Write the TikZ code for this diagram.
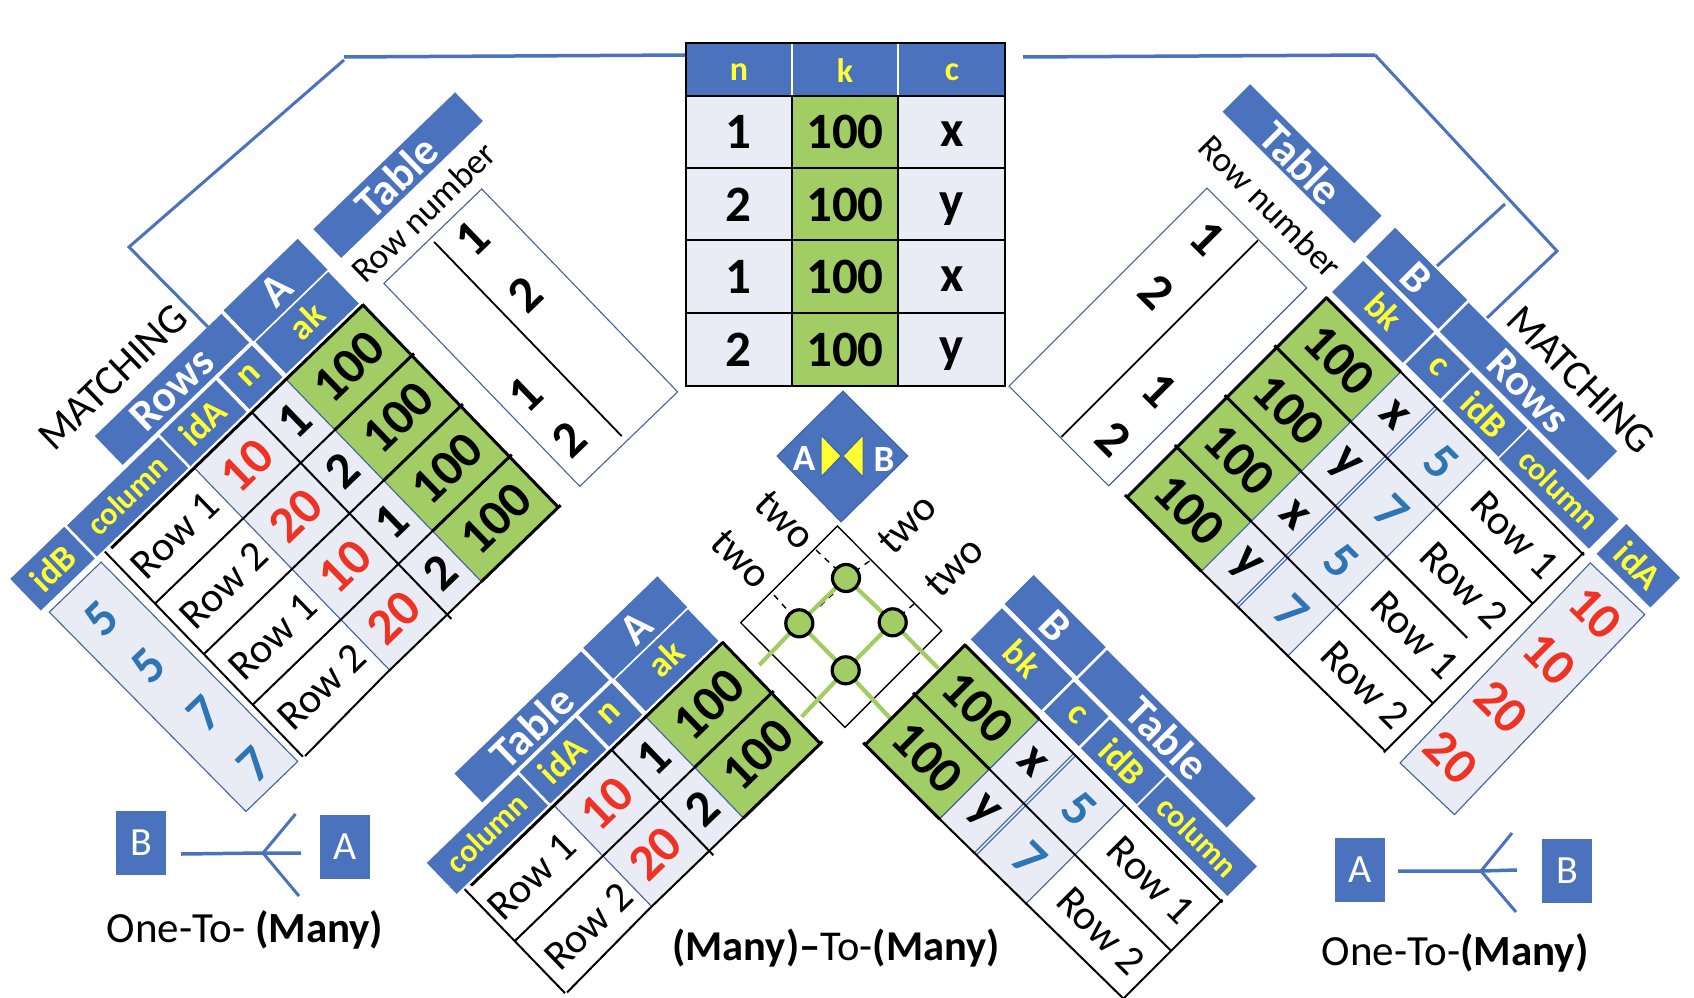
\documentclass[tikz,border=0pt]{standalone}
\usepackage{fontspec}
\setmainfont{Carlito}
\definecolor{bl}{HTML}{4A72BD}
\definecolor{lt}{HTML}{E9EBF5}
\definecolor{gr}{HTML}{A1CD64}
\definecolor{rd}{HTML}{EE3324}
\definecolor{dg}{HTML}{2E75B6}
\definecolor{ye}{HTML}{FFFF33}
\definecolor{eg}{HTML}{41629F}
\newcounter{lab}
\newcommand\tx[4]{\stepcounter{lab}\node[#3] (t\arabic{lab}) at (#1,#2) {#4};}
\tikzset{
  hd/.style={fill=bl},
  wh/.style={font=\fontsize{44}{44}\selectfont\bfseries,text=white,inner sep=0pt},
  yl/.style={font=\fontsize{36}{36}\selectfont\bfseries,text=ye,inner sep=0pt},
  yc/.style={yl,font=\fontsize{32}{32}\selectfont\bfseries},
  ym/.style={yl,font=\fontsize{34}{34}\selectfont\bfseries},
  nm/.style={font=\fontsize{51}{51}\selectfont\bfseries,text=black,inner sep=0pt},
  rn/.style={nm,text=rd},
  bn/.style={nm,text=dg},
  rw/.style={font=\fontsize{42}{42}\selectfont,text=black,inner sep=0pt},
  rt/.style={font=\fontsize{35.5}{36}\selectfont,text=black,inner sep=0pt},
  mt/.style={font=\fontsize{42}{42}\selectfont,text=black,inner sep=0pt},
  lg/.style={font=\fontsize{43}{43}\selectfont,text=black,inner sep=0pt},
  thin line/.style={draw=eg,line width=1.1pt},
  gl/.style={draw=black,line width=2pt},
  tk/.style={draw=black,line width=3pt},
  ml/.style={draw=bl,line width=3pt},
  eb/.style={fill=bl,text=white,inner sep=0pt,font=\fontsize{40}{40}\selectfont},
  gc/.style={circle,fill=gr,draw=black,line width=3.2pt,minimum size=27pt,inner sep=0pt},
  gs/.style={draw=gr,line width=4.2pt},
  dsh/.style={draw=black,line width=1.4pt,dash pattern=on 6pt off 6pt}
}
\newcommand\LeftHead[1]{%
  \path[hd] (-104,-93) rectangle (-1,-50);
  \path[hd] (-103,-48) rectangle (-2,-4);
  \path[hd] (-284,-92) rectangle (-108,-52);
  \path[hd] (-154,-48) rectangle (-108,-4);
  \path[hd] (-236,-48) rectangle (-158,-4);
  \path[hd] (-366,-47) rectangle (-239,-4);
  \tx{-52}{-71}{wh}{A}
  \tx{-52}{-28}{yl}{ak}
  \tx{-196}{-72}{wh}{#1}
  \tx{-131}{-28}{yl}{n}
  \tx{-197}{-27}{yl}{idA}
  \tx{-302}{-27}{yc}{column}
}
\newcommand\RightHead[1]{%
  \path[hd] (-1,-98) rectangle (101,-57);
  \path[hd] (0,-52) rectangle (100,-8);
  \path[hd] (104,-97) rectangle (314,-56);
  \path[hd] (103,-51) rectangle (152,-9);
  \path[hd] (155,-50) rectangle (234,-9);
  \path[hd] (236,-50) rectangle (363,-8);
  \tx{50}{-77}{wh}{B}
  \tx{50}{-31}{yl}{bk}
  \tx{209}{-77}{wh}{#1}
  \tx{128}{-30}{yl}{c}
  \tx{194}{-29}{yl}{idB}
  \tx{300}{-29}{yc}{column}
}
\newcommand\LeftGrid[1]{%
  \pgfmathsetmacro\HH{70.3*#1}
  \path[fill=lt] (-234.5,0) rectangle (-107,\HH);
  \path[fill=gr] (-107,0) rectangle (0,\HH);
  \draw[thin line] (-234.5,0) -- (-234.5,\HH);
  \draw[thin line] (-107,0) -- (-107,\HH);
  \foreach \k in {1,...,#1}{
    \pgfmathsetmacro\vv{70.3*\k}
    \ifnum\k<#1\relax
      \draw[gl] (-357,\vv) -- (-107,\vv);
      \draw[tk] (-107,\vv) -- (3,\vv);
    \fi
  }
  \draw[tk] (-107,\HH) -- (3,\HH);
  \draw[gl] (-107,\HH) -- (-240,\HH);
  \draw[gl] (-240,\HH) -- (-355,\HH+3);
  \draw[gl] (-154.5,0) -- (-154.5,\HH+6);
  \draw[gl] (-357,-2) -- (-357,\HH+2);
  \draw[tk] (-350,0) -- (0,0);
  \draw[tk] (0,-1) -- (0,\HH+1);
}
\newcommand\RightGrid[1]{%
  \pgfmathsetmacro\HH{70.5*#1}
  \path[fill=lt] (105,0) rectangle (226,\HH);
  \path[fill=gr] (0,0) rectangle (105,\HH);
  \draw[thin line] (105,0) -- (105,\HH);
  \draw[thin line] (226,0) -- (226,\HH);
  \draw[thin line] (153.5,0) -- (153.5,\HH);
  \draw[thin line] (156.5,0) -- (156.5,\HH);
  \foreach \k in {1,...,#1}{
    \pgfmathsetmacro\vv{70.5*\k}
    \ifnum\k<#1\relax
      \ifnum\k=2\relax
        \draw[gl] (105,\vv) -- (340,\vv);
      \else
        \draw[gl] (105,\vv) -- (362,\vv);
      \fi
      \draw[tk] (-3,\vv) -- (105,\vv);
    \fi
  }
  \draw[tk] (-3,\HH) -- (105,\HH);
  \draw[gl] (105,\HH) -- (362,\HH-3);
  \draw[gl] (362,-2) -- (362,\HH-1);
  \draw[gl] (0,0) -- (364,0);
  \draw[tk] (0,0) -- (105,0);
  \draw[tk] (0,-1) -- (0,\HH+1);
}
\begin{document}
\begin{tikzpicture}[x=1pt,y=-1pt]
\useasboundingbox (0,0) rectangle (1694,998);

% ---- matching lines
\coordinate (la) at (685,55);
\coordinate (lb) at (344,57);
\coordinate (lc) at (344,60);
\coordinate (ld) at (129,247);
\coordinate (le) at (208,327);
\draw[ml,line width=3.5pt] (la) -- (lb);
\draw[ml] (lc) -- (ld) -- (le);
\coordinate (ra) at (1023,57);
\coordinate (rb) at (1375,55);
\coordinate (rc) at (1557,251);
\coordinate (rd) at (1487,318);
\coordinate (re) at (1505,204);
\coordinate (rf) at (1437,266);
\draw[ml,line width=3.5pt] (ra) -- (rb);
\draw[ml] (rb) -- (rc) -- (rd);
\draw[ml] (re) -- (rf);

% ---- centre table
\foreach \x/\w in {686/106,792/106,898/107}{
  \path[fill=bl] (\x,43) rectangle (\x+\w,96);
  \path[fill=lt] (\x,96) rectangle (\x+\w,386);
}
\path[fill=gr] (792,96) rectangle (898,386);
\draw[white,line width=1.5pt] (792,43) -- (792,96) (898,43) -- (898,96);
\draw[black,line width=2pt] (686,43) rectangle (1005,386);
\foreach \y in {96,168,240,313}{\draw[black,line width=2pt] (686,\y) -- (1005,\y);}
\draw[black,line width=2pt] (792,96) -- (792,386) (898,96) -- (898,386);
\tx{739}{72}{ym}{n}
\tx{845}{71}{ym}{k}
\tx{952}{72}{ym}{c}
\foreach \y/\a/\b/\s in {132/1/x/2,205/2/y/4,277/1/x/2,350/2/y/4}{
  \stepcounter{lab}
  \node[nm] (ca\arabic{lab}) at (738,\y) {\a};
  \node[nm] (cb\arabic{lab}) at (845,\y) {100};
  \node[nm] (cc\arabic{lab}) at (952,\y+\s) {\b};
}

% ---- join symbol
\path[fill=bl,draw=eg,line width=1pt] (843,391) -- (908,456) -- (841,522) -- (777,456) -- cycle;
\path[fill=ye,draw=eg,line width=1pt] (821,435) -- (841,456) -- (821,477) -- cycle;
\path[fill=ye,draw=eg,line width=1pt] (863,435) -- (843,456) -- (863,477) -- cycle;
\tx{804}{458}{wh,font=\fontsize{37}{37}\selectfont\bfseries}{A}
\tx{884}{459}{wh,font=\fontsize{37}{37}\selectfont\bfseries}{B}

% ---- ER square
\draw[black,line width=1.4pt] (837.3,526) -- (941.7,630.7) -- (845,727.3) -- (740.7,622.7) -- cycle;
\coordinate (ct) at (846,578);
\coordinate (cl) at (799.3,623.3);
\coordinate (cr) at (892.7,622.3);
\coordinate (cb) at (845.7,670.3);
\draw[dsh] (816,550) -- (ct);
\draw[dsh] (774,595) -- (cl);
\draw[dsh] (869.5,561) -- (ct);
\draw[dsh] (914,604) -- (cr);
\draw[dsh] (820,606) -- (835,592);
\draw[gs] (759.3,665) -- (cl) -- (ct) -- (cr) -- (938.3,668.3);
\draw[gs] (801.7,716.7) -- (cb) -- (cr);
\draw[gs] (cl) -- (cb) -- (891.7,720);
\node[gc] (nt) at (ct) {};
\node[gc] (nl) at (cl) {};
\node[gc] (nr) at (cr) {};
\node[gc] (nb) at (cb) {};
\node[rw,rotate=-45] (two1) at (785,520) {two};
\node[rw,rotate=-45] (two2) at (741,559) {two};
\node[rw,rotate=45] (two3) at (907,524) {two};
\node[rw,rotate=45] (two4) at (954,567) {two};

% ---- left table
\begin{scope}[shift={(363,305)},rotate=44,transform shape]
  \path[fill=white,draw=eg,line width=1.1pt] (30,-1) rectangle (166,281);
  \draw[black,line width=1.8pt] (95,4) -- (95,274);
  \tx{125}{28}{nm}{1}
  \tx{124}{105}{nm}{2}
  \tx{55}{177}{nm}{1}
  \tx{55}{240}{nm}{2}
  \path[hd] (17,-89) rectangle (214,-49);
  \tx{113}{-69}{wh}{Table}
  \tx{108}{-25}{rt}{Row number}
  \tx{-230}{-122}{mt}{MATCHING}
  \LeftHead{Rows}
  \LeftGrid{4}
  \path[fill=lt,draw=eg,line width=1.1pt] (-439,3) -- (-367,3) -- (-364,283) -- (-436,283) -- cycle;
  \path[hd] (-444,-48) rectangle (-369,-4);
  \tx{-406}{-26}{yl}{idB}
  \foreach \u/\v/\d in {-406/44/5,-405/110/5,-398/184/7,-398/255/7}{
    \stepcounter{lab}\node[bn] (d\arabic{lab}) at (\u,\v) {\d};}
  \foreach \v/\a/\b/\r in {35/1/10/1,105/2/20/2,176/1/10/1,246/2/20/2}{
    \stepcounter{lab}
    \node[nm] (g\arabic{lab}) at (-53,\v) {100};
    \node[nm] (m\arabic{lab}) at (-130,\v) {\a};
    \node[rn] (o\arabic{lab}) at (-195,\v) {\b};
    \node[rw] (w\arabic{lab}) at (-295,\v) {Row \r};
  }
\end{scope}

% ---- bottom-left table
\begin{scope}[shift={(722.7,642.5)},rotate=44,transform shape]
  \LeftHead{Table}
  \LeftGrid{2}
  \foreach \v/\a/\b/\r/\ru/\rv in {35/1/10/1/-300/36,105/2/20/2/-294/111}{
    \stepcounter{lab}
    \node[nm] (g\arabic{lab}) at (-53,\v) {100};
    \node[nm] (m\arabic{lab}) at (-130,\v) {\a};
    \node[rn] (o\arabic{lab}) at (-195,\v) {\b};
    \node[rw] (w\arabic{lab}) at (\ru,\rv) {Row \r};
  }
\end{scope}

% ---- right table
\begin{scope}[shift={(1326.5,297.7)},rotate=-45,transform shape]
  \path[fill=white,draw=eg,line width=1.1pt] (-162,7) rectangle (-21,287);
  \draw[black,line width=1.8pt] (-89,8) -- (-89,286);
  \tx{-126}{42}{nm}{1}
  \tx{-125}{116}{nm}{2}
  \tx{-53}{184}{nm}{1}
  \tx{-51}{251}{nm}{2}
  \path[hd] (-205,-97) rectangle (-19,-58);
  \tx{-113}{-77}{wh}{Table}
  \tx{-104}{-25}{rt}{Row number}
  \tx{238}{-122}{mt}{MATCHING}
  \RightHead{Rows}
  \RightGrid{4}
  \path[fill=lt,draw=eg,line width=1.1pt] (374,1) -- (449,-1) -- (456,275) -- (381,277) -- cycle;
  \path[hd] (372,-52) rectangle (448,-10);
  \tx{410}{-31}{yl}{idA}
  \foreach \v/\d in {33/10,98/10,166/20,237/20}{
    \stepcounter{lab}\node[rn] (d\arabic{lab}) at (413,\v) {\d};}
  \foreach \v/\a/\b/\r in {35/x/5/1,106/y/7/2,176/x/5/1,247/y/7/2}{
    \stepcounter{lab}
    \node[nm] (g\arabic{lab}) at (53,\v) {100};
    \node[nm] (m\arabic{lab}) at (131,\v) {\a};
    \node[bn] (o\arabic{lab}) at (197,\v) {\b};
    \node[rw] (w\arabic{lab}) at (301,\v) {Row \r};
  }
\end{scope}

% ---- bottom-right table
\begin{scope}[shift={(965,645)},rotate=-45,transform shape]
  \RightHead{Table}
  \RightGrid{2}
  \foreach \v/\a/\b/\r in {35/x/5/1,106/y/7/2}{
    \stepcounter{lab}
    \node[nm] (g\arabic{lab}) at (53,\v) {100};
    \node[nm] (m\arabic{lab}) at (131,\v) {\a};
    \node[bn] (o\arabic{lab}) at (197,\v) {\b};
    \node[rw] (w\arabic{lab}) at (298,\v) {Row \r};
  }
\end{scope}

% ---- legends
\node[eb,minimum width=50pt,minimum height=64pt] (lgB) at (141,843) {B};
\node[eb,minimum width=50pt,minimum height=64pt] (lgA) at (345,847) {A};
\coordinate (k1) at (263,853);
\draw[ml,line width=3.5pt] (181,854) -- (k1) -- (301,853);
\draw[ml] (295.5,814) -- (k1) -- (299,896);
\node[lg] (lgt1) at (245,930) {One-To- \textbf{(Many)}};

\node[eb,minimum width=50pt,minimum height=64pt] (lgA2) at (1360,870) {A};
\node[eb,minimum width=50pt,minimum height=64pt] (lgB2) at (1567,871) {B};
\coordinate (k2) at (1481,871);
\draw[ml,line width=3.5pt] (1398,871) -- (k2) -- (1517,870);
\draw[ml] (1512,833) -- (k2) -- (1516,912);
\node[lg] (lgt2) at (1455,953) {One-To-\textbf{(Many)}};

\node[lg,font=\fontsize{42.5}{43}\selectfont] (lgt3) at (836,948) {\textbf{(Many)–}To-\textbf{(Many)}};
\end{tikzpicture}
\end{document}
